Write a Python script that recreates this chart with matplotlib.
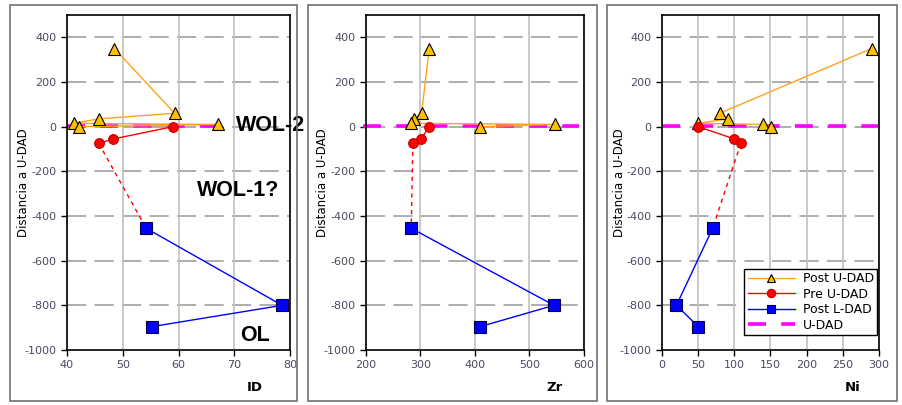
import matplotlib.pyplot as plt
from matplotlib.patches import Rectangle

plt.rcParams['axes.unicode_minus'] = False

# depth relative to U-DAD (same for all three panels)
post_u_y = [350, 60, 35, 15, 10, 0]
pre_u_y = [0, -55, -75]
post_l_y = [-455, -800, -895]

# element values per panel
post_u_id = [48.5, 59.3, 45.7, 41.2, 67.0, 42.2]
pre_u_id = [59.0, 48.3, 45.7]
post_l_id = [54.2, 78.6, 55.3]

post_u_zr = [316, 302, 288, 283, 547, 410]
pre_u_zr = [316, 301, 286]
post_l_zr = [283, 545, 410]

post_u_ni = [290, 80, 91, 50, 140, 151]
pre_u_ni = [50, 100, 109]
post_l_ni = [70, 20, 50]

udad_y = 3
panels = [
    ('ID', post_u_id, pre_u_id, post_l_id, (40, 80), [40, 50, 60, 70, 80], (40, 69.5)),
    ('Zr', post_u_zr, pre_u_zr, post_l_zr, (200, 600), [200, 300, 400, 500, 600], (195, 590)),
    ('Ni', post_u_ni, pre_u_ni, post_l_ni, (0, 300), [0, 50, 100, 150, 200, 250, 300], (0, 305)),
]

W, H = 903, 405
fig = plt.figure(figsize=(W / 100, H / 100), dpi=100)

# pixel boxes: (left, right) of axes and of the outer frame
ax_px = [(67, 290), (366, 584), (662, 879)]
frame_px = [(10, 297), (308, 597), (607, 897)]
ylab_px = [30, 329, 626]
xlab_px = [255, 555, 853]
ax_top, ax_bot = 15, 350

for (x0, x1) in frame_px:
    fig.patches.append(Rectangle((x0 / W, 1 - 401 / H), (x1 - x0) / W, (401 - 5) / H,
                                 transform=fig.transFigure, fill=False,
                                 edgecolor='#707070', linewidth=1.2))

axes = []
for i, (name, pu, pr, pl, xlim, xticks, urange) in enumerate(panels):
    l, r = ax_px[i]
    ax = fig.add_axes([l / W, 1 - ax_bot / H, (r - l) / W, (ax_bot - ax_top) / H])
    axes.append(ax)

    ax.set_xlim(*xlim)
    ax.set_ylim(-1000, 500)
    ax.set_xticks(xticks)
    ax.set_yticks(range(-1000, 401, 200))
    ax.tick_params(direction='out', length=4, labelsize=8, labelcolor='#4a4a60',
                   color='black', width=1)
    for s in ax.spines.values():
        s.set_linewidth(1.2)

    # grid: vertical solid, horizontal dashed
    ax.grid(axis='x', color='#c0c0c0', linewidth=1.2, linestyle='-')
    for yv in range(-800, 401, 200):
        ax.axhline(yv, color='#a0a0a0', linewidth=1.2, linestyle=(0, (11.5, 5)), zorder=0.5)
    ax.set_axisbelow(True)

    ax.plot(urange, [udad_y, udad_y], color='#ff00ff', linewidth=2.6,
            linestyle=(0, (5, 4.2)), zorder=2, clip_on=False, label='U-DAD')
    ax.plot(pu, post_u_y, color='#ffa31a', linewidth=1, marker='^', markersize=8,
            markerfacecolor='#ffc000', markeredgecolor='black', markeredgewidth=0.8,
            zorder=3, label='Post U-DAD')
    ax.plot(pr, pre_u_y, color='#ff0000', linewidth=1, marker='o', markersize=7,
            markerfacecolor='#ff0000', markeredgecolor='#c00000', markeredgewidth=0.8,
            zorder=4, label='Pre U-DAD')
    ax.plot(pl, post_l_y, color='#0000ff', linewidth=1, marker='s', markersize=8,
            markerfacecolor='#0000ff', markeredgecolor='#000040', markeredgewidth=0.8,
            zorder=4, label='Post L-DAD')
    # dotted link between last Pre U-DAD and first Post L-DAD sample
    ax.plot([pr[-1], pl[0]], [pre_u_y[-1], post_l_y[0]], color='#ff0000',
            linewidth=1, linestyle=(0, (3, 3)), zorder=2)

    ax.set_ylabel('Distancia a U-DAD', fontsize=8.5)
    ax.yaxis.set_label_coords((ylab_px[i] - l) / (r - l), 0.5)
    ax.set_xlabel(name, fontsize=9.5, fontweight='bold')
    ax.xaxis.set_label_coords((xlab_px[i] - l) / (r - l), -31 / (ax_bot - ax_top))

ax1 = axes[0]
ann = dict(fontsize=15.5, fontweight='bold', family='Liberation Sans', ha='left', va='center')
ax1.text(70.3, 7, 'WOL-2', clip_on=False, zorder=6, **ann)
ax1.text(63.3, -284, 'WOL-1?', **ann)
ax1.text(71.0, -933, 'OL', **ann)

ax3 = axes[2]
h, lab = ax3.get_legend_handles_labels()
order = [1, 2, 3, 0]
leg = ax3.legend([h[k] for k in order], [lab[k] for k in order], loc='lower right',
                 bbox_to_anchor=(0.99, 0.045), fontsize=9, frameon=True, fancybox=False,
                 edgecolor='black', framealpha=1, borderpad=0.25, labelspacing=0.2,
                 handlelength=3.8, handletextpad=0.6, borderaxespad=0)
leg.get_frame().set_linewidth(1)
for lh in leg.get_lines():
    lh.set_markersize(6)

fig.savefig('out.png', dpi=100)
